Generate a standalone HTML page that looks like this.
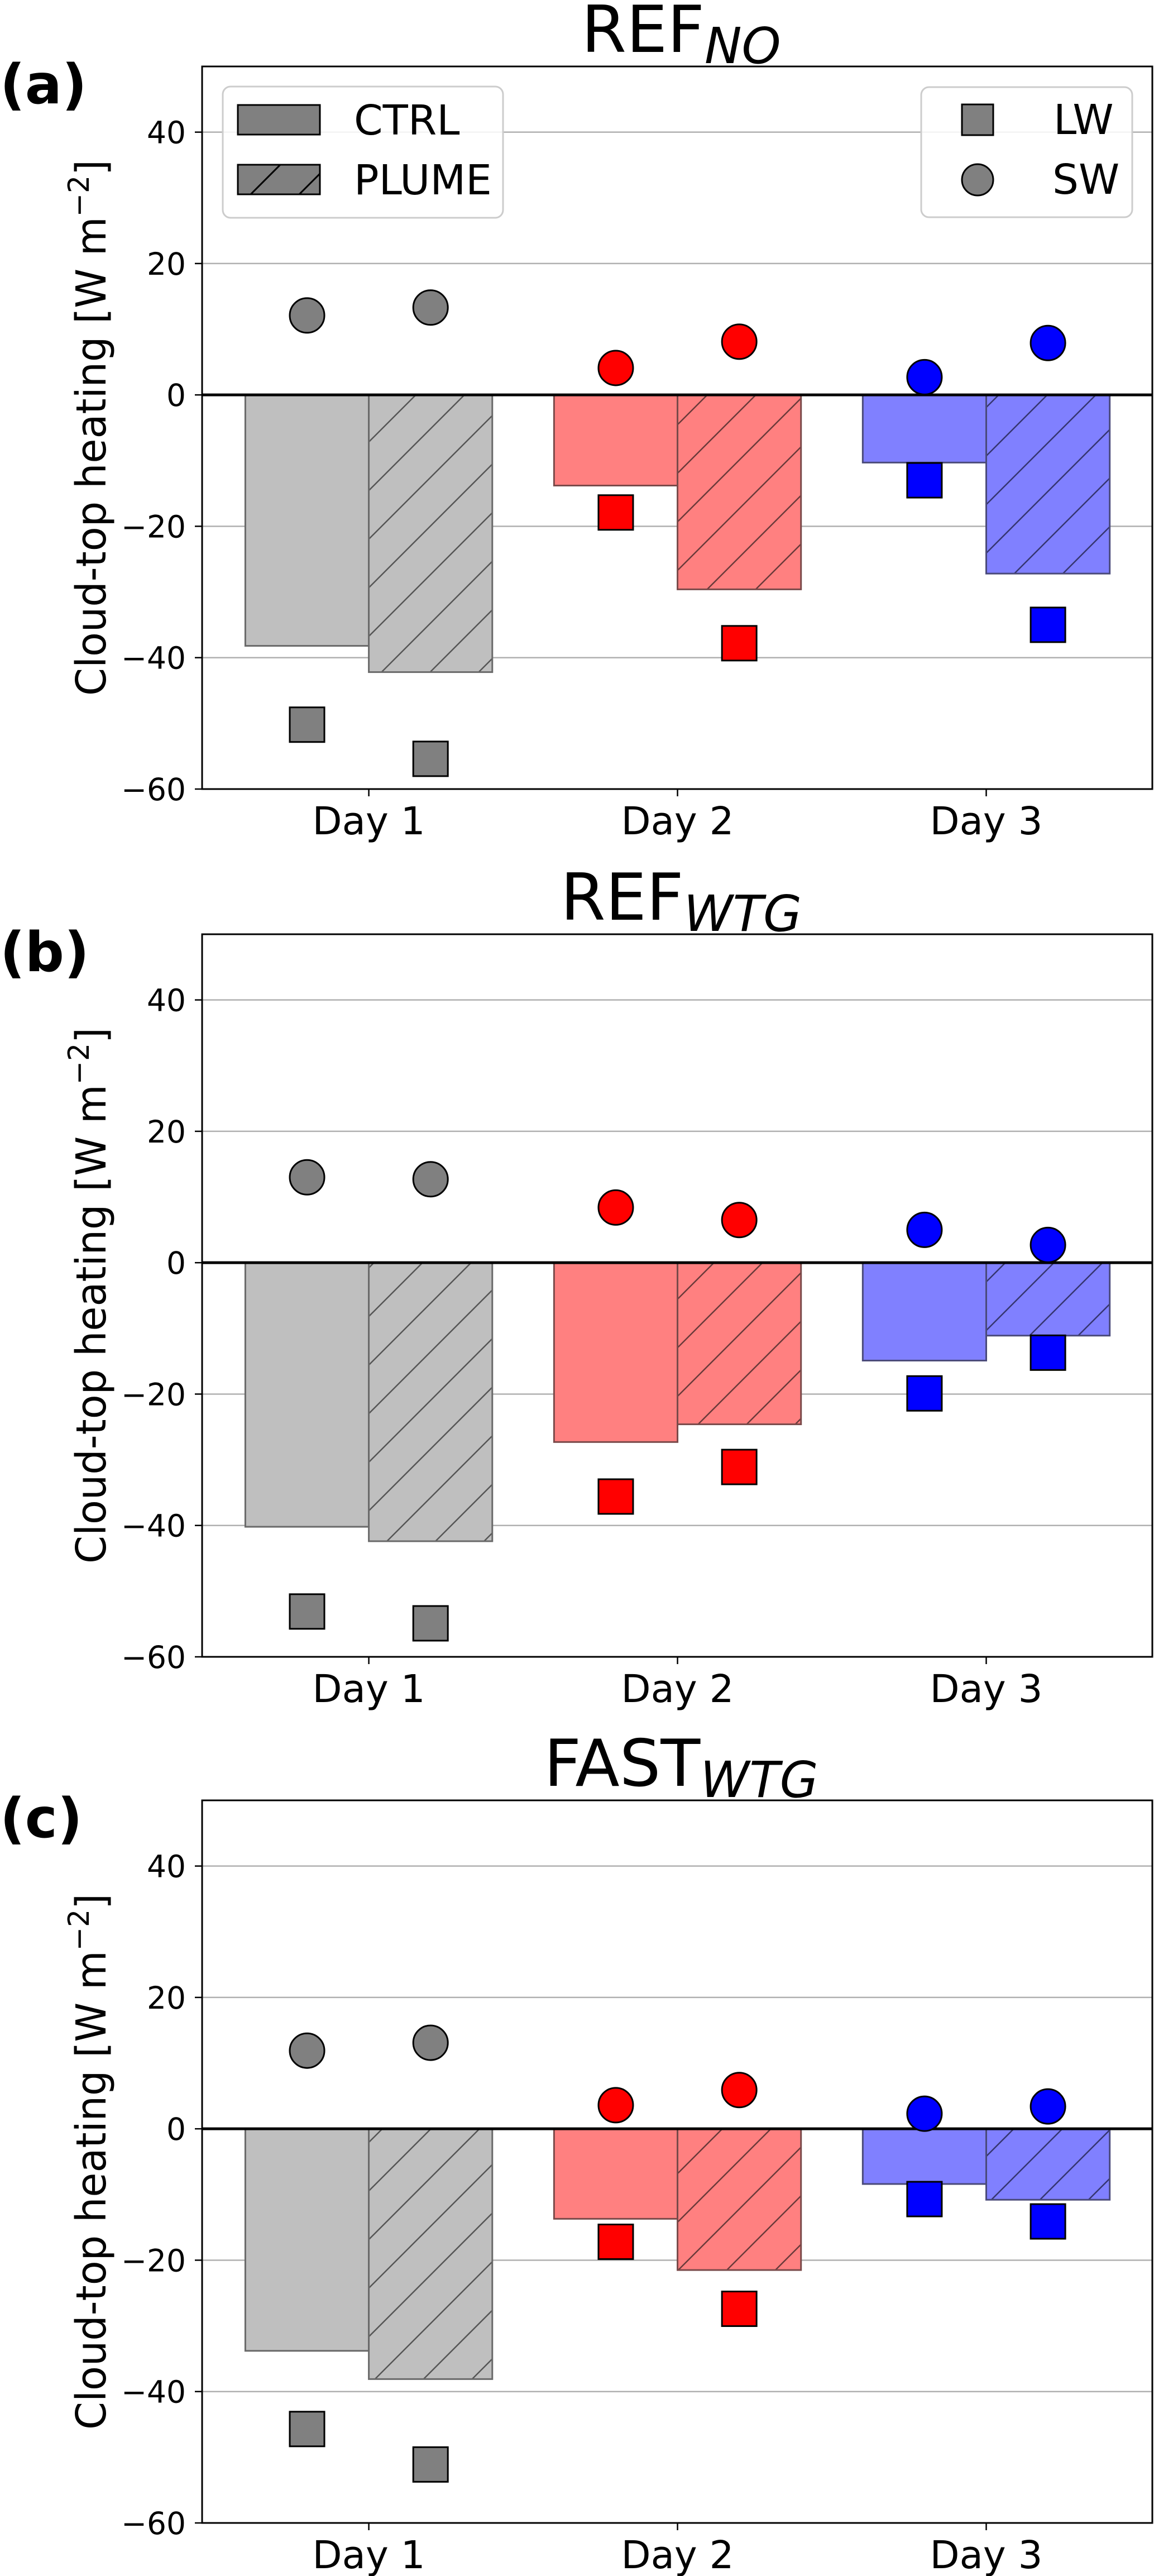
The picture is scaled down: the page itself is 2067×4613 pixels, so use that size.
<!DOCTYPE html>
<html><head><meta charset="utf-8"><style>
html,body{margin:0;padding:0;background:#fff}
svg{display:block;font-family:"DejaVu Sans","Liberation Sans",sans-serif}
</style></head>
<body>
<svg id="fig" xmlns="http://www.w3.org/2000/svg" width="2067" height="4613" viewBox="0 0 2067 4613">
<defs>
<pattern id="hatch-gray" patternUnits="userSpaceOnUse" width="87" height="87" patternTransform="translate(60,0)"><line x1="-10" y1="97" x2="97" y2="-10" stroke="#555" stroke-width="2.5"/><line x1="-10" y1="10" x2="10" y2="-10" stroke="#555" stroke-width="2.5"/><line x1="77" y1="97" x2="97" y2="77" stroke="#555" stroke-width="2.5"/></pattern>
<pattern id="hatch-red" patternUnits="userSpaceOnUse" width="87" height="87" patternTransform="translate(60,0)"><line x1="-10" y1="97" x2="97" y2="-10" stroke="#6a3a3a" stroke-width="2.5"/><line x1="-10" y1="10" x2="10" y2="-10" stroke="#6a3a3a" stroke-width="2.5"/><line x1="77" y1="97" x2="97" y2="77" stroke="#6a3a3a" stroke-width="2.5"/></pattern>
<pattern id="hatch-blue" patternUnits="userSpaceOnUse" width="87" height="87" patternTransform="translate(60,0)"><line x1="-10" y1="97" x2="97" y2="-10" stroke="#353570" stroke-width="2.5"/><line x1="-10" y1="10" x2="10" y2="-10" stroke="#353570" stroke-width="2.5"/><line x1="77" y1="97" x2="97" y2="77" stroke="#353570" stroke-width="2.5"/></pattern>
<pattern id="hatch-leg" patternUnits="userSpaceOnUse" width="87" height="87" patternTransform="translate(14,0)"><line x1="-10" y1="97" x2="97" y2="-10" stroke="#000" stroke-width="3"/><line x1="-10" y1="10" x2="10" y2="-10" stroke="#000" stroke-width="3"/><line x1="77" y1="97" x2="97" y2="77" stroke="#000" stroke-width="3"/></pattern>
</defs>
</svg>
<script>
// ---- data ----
const days = ["Day 1", "Day 2", "Day 3"];
const yTicks = [-60, -40, -20, 0, 20, 40];
const panelLabels = ["(a)", "(b)", "(c)"];
const titleMain = ["REF", "REF", "FAST"];
const titleSub = ["NO", "WTG", "WTG"];
const ctrlNet_a = [-38.2, -13.8, -10.3];
const plumeNet_a = [-42.2, -29.6, -27.2];
const ctrlLW_a = [-50.2, -17.9, -13.0];
const plumeLW_a = [-55.4, -37.8, -35.0];
const ctrlSW_a = [12.1, 4.1, 2.7];
const plumeSW_a = [13.3, 8.1, 7.9];
const ctrlNet_b = [-40.2, -27.3, -14.9];
const plumeNet_b = [-42.4, -24.6, -11.1];
const ctrlLW_b = [-53.1, -35.6, -19.9];
const plumeLW_b = [-54.9, -31.1, -13.7];
const ctrlSW_b = [13.0, 8.4, 5.0];
const plumeSW_b = [12.7, 6.5, 2.7];
const ctrlNet_c = [-33.8, -13.7, -8.4];
const plumeNet_c = [-38.1, -21.5, -10.8];
const ctrlLW_c = [-45.7, -17.2, -10.7];
const plumeLW_c = [-51.1, -27.4, -14.1];
const ctrlSW_c = [11.9, 3.6, 2.3];
const plumeSW_c = [13.1, 5.9, 3.4];

const panelData = [
  [ctrlNet_a, plumeNet_a, ctrlLW_a, plumeLW_a, ctrlSW_a, plumeSW_a],
  [ctrlNet_b, plumeNet_b, ctrlLW_b, plumeLW_b, ctrlSW_b, plumeSW_b],
  [ctrlNet_c, plumeNet_c, ctrlLW_c, plumeLW_c, ctrlSW_c, plumeSW_c]
];
const barFill = ["#bfbfbf", "#ff8080", "#8080ff"];
const barEdge = ["#6a6a6a", "#7a4a4a", "#4a4a7a"];
const hatchId = ["hatch-gray", "hatch-red", "hatch-blue"];
const markerFill = ["#808080", "#ff0000", "#0000ff"];

const NS = "http://www.w3.org/2000/svg";
const svg = document.getElementById("fig");
function mk(tag, attrs, parent) {
  const e = document.createElementNS(NS, tag);
  for (const k in attrs) e.setAttribute(k, attrs[k]);
  (parent || svg).appendChild(e);
  return e;
}
const AX_L = 362, AX_R = 2064, AX_H = 1294;
const panelTops = [119, 1673, 3224];
const XMIN = -0.54, XMAX = 2.538, YMIN = -60, YMAX = 50;
function xs(u) { return AX_L + (u - XMIN) / (XMAX - XMIN) * (AX_R - AX_L); }
const BW = 0.4;

panelTops.forEach((top, p) => {
  const g = mk("g", {});
  
  
  const ys = v => top + (YMAX - v) / (YMAX - YMIN) * AX_H;
  const bottom = top + AX_H;
  // grid
  yTicks.forEach(t => {
    if (t === 0 || t === -60) return;
    const l = mk("line", {x1: AX_L, x2: AX_R, y1: ys(t), y2: ys(t), stroke: "#b0b0b0", "stroke-width": 2.5}, g);
    
    
  });
  const [cN, pN, cL, pL, cS, pS] = panelData[p];
  // bars
  days.forEach((d, i) => {
    const x0 = xs(i - BW), x1 = xs(i), x2 = xs(i + BW);
    const b1 = mk("rect", {x: x0, y: ys(0), width: x1 - x0, height: ys(cN[i]) - ys(0), fill: barFill[i], stroke: barEdge[i], "stroke-width": 3}, g);
    
    
    const b2 = mk("rect", {x: x1, y: ys(0), width: x2 - x1, height: ys(pN[i]) - ys(0), fill: barFill[i]}, g);
    
    
    const h = mk("rect", {x: x1, y: ys(0), width: x2 - x1, height: ys(pN[i]) - ys(0), fill: "url(#" + hatchId[i] + ")", stroke: barEdge[i], "stroke-width": 3}, g);
    
    
  });
  // zero line
  const z = mk("line", {x1: AX_L, x2: AX_R, y1: ys(0), y2: ys(0), stroke: "#000", "stroke-width": 5}, g);
  
  
  // markers
  const S = 62;
  days.forEach((d, i) => {
    [[cL, i - BW / 2, 'ctrl'], [pL, i + BW / 2, 'plume']].forEach(([arr, u, nm]) => {
      const r = mk("rect", {x: xs(u) - S / 2, y: ys(arr[i]) - S / 2, width: S, height: S, fill: markerFill[i], stroke: "#000", "stroke-width": 3}, g);
      
      
    });
    [[cS, i - BW / 2, 'ctrl'], [pS, i + BW / 2, 'plume']].forEach(([arr, u, nm]) => {
      const c = mk("circle", {cx: xs(u), cy: ys(arr[i]), r: 31, fill: markerFill[i], stroke: "#000", "stroke-width": 3}, g);
      
      
    });
  });
  // frame
  const f = mk("rect", {x: AX_L, y: top, width: AX_R - AX_L, height: AX_H, fill: "none", stroke: "#000", "stroke-width": 3}, g);
  
  
  // y ticks
  yTicks.forEach(t => {
    mk("line", {x1: AX_L - 13, x2: AX_L, y1: ys(t), y2: ys(t), stroke: "#000", "stroke-width": 2.5}, g);
    const tx = mk("text", {x: 333, y: ys(t) + 20, "text-anchor": "end", "font-size": 55}, g);
    tx.textContent = t < 0 ? "\u2212" + Math.abs(t) : String(t);
    
    
  });
  // x ticks
  days.forEach((d, i) => {
    mk("line", {x1: xs(i), x2: xs(i), y1: bottom, y2: bottom + 13, stroke: "#000", "stroke-width": 2.5}, g);
    const tx = mk("text", {x: xs(i), y: bottom + 81, "text-anchor": "middle", "font-size": 69}, g);
    tx.textContent = d;
    
    
  });
  // y label
  const yl = mk("text", {x: 0, y: 0, transform: "translate(189," + (top + AX_H / 2) + ") rotate(-90)", "text-anchor": "middle", "font-size": 74, textLength: 960, lengthAdjust: "spacingAndGlyphs"}, g);
  yl.innerHTML = 'Cloud-top heating [W m<tspan dy="-30" font-size="52">\u22122</tspan><tspan dy="30">]</tspan>';
  
  
  // title
  const tt = mk("text", {x: 1220, y: top - 26, "text-anchor": "middle", "font-size": 116}, g);
  tt.innerHTML = titleMain[p] + '<tspan dy="20" font-size="89" font-style="italic">' + titleSub[p] + '</tspan>';
  
  
  // panel label
  const pl = mk("text", {x: 0, y: top + 66, "font-size": 98, "font-weight": "bold"}, g);
  pl.textContent = panelLabels[p];
  
  

  if (p === 0) {
    const lg = mk("g", {}, g);
    
    
    mk("rect", {x: 399, y: 155, width: 502, height: 235, rx: 14, fill: "#fff", "fill-opacity": 0.85, stroke: "#cccccc", "stroke-width": 3}, lg);
    const p1 = mk("rect", {x: 426, y: 188, width: 147, height: 53, fill: "#808080", stroke: "#000", "stroke-width": 3}, lg);
    
    
    const p2 = mk("rect", {x: 426, y: 295, width: 147, height: 53, fill: "#808080", stroke: "#000", "stroke-width": 3}, lg);
    
    
    mk("rect", {x: 426, y: 295, width: 147, height: 53, fill: "url(#hatch-leg)"}, lg);
    const t1 = mk("text", {x: 634, y: 241, "font-size": 74}, lg); t1.textContent = "CTRL";
    const t2 = mk("text", {x: 634, y: 348, "font-size": 74}, lg); t2.textContent = "PLUME";
    const lg2 = mk("g", {}, g);
    
    
    mk("rect", {x: 1650, y: 156, width: 378, height: 233, rx: 14, fill: "#fff", "fill-opacity": 0.85, stroke: "#cccccc", "stroke-width": 3}, lg2);
    const m1 = mk("rect", {x: 1723, y: 187, width: 56, height: 55, fill: "#808080", stroke: "#000", "stroke-width": 3}, lg2);
    
    
    const m2 = mk("circle", {cx: 1751, cy: 322, r: 28, fill: "#808080", stroke: "#000", "stroke-width": 3}, lg2);
    
    
    const t3 = mk("text", {x: 1887, y: 240, "font-size": 74}, lg2); t3.textContent = "LW";
    const t4 = mk("text", {x: 1885, y: 347, "font-size": 74}, lg2); t4.textContent = "SW";
  }
});
</script>
</body></html>
